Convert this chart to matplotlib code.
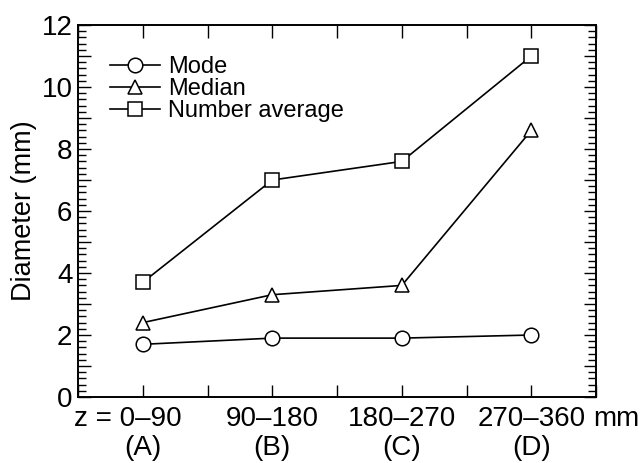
import matplotlib.pyplot as plt
from matplotlib.ticker import MultipleLocator, FuncFormatter

plt.rcParams['font.family'] = ['Liberation Sans', 'DejaVu Sans']

# data
positions = [1, 2, 3, 4]
ranges = ["0\u201390", "90\u2013180", "180\u2013270", "270\u2013360"]
groups = ["(A)", "(B)", "(C)", "(D)"]
mode = [1.7, 1.9, 1.9, 2.0]
median = [2.4, 3.3, 3.6, 8.6]
number_avg = [3.7, 7.0, 7.6, 11.0]

fig = plt.figure(figsize=(6.41, 4.63), dpi=100)
ax = fig.add_axes([0.1217, 0.1425, 0.8083, 0.8035])

style = dict(color="black", lw=1.2, markersize=10.5, markerfacecolor="white",
             markeredgecolor="black", markeredgewidth=1.1)
ax.plot(positions, mode, marker="o", label="Mode", **style)
ax.plot(positions, median, marker="^", label="Median", **style)
ax.plot(positions, number_avg, marker="s", label="Number average", **style)

ax.set_xlim(0.5, 4.5)
ax.set_ylim(0, 12)

# axis styling
for sp in ax.spines.values():
    sp.set_linewidth(1.4)
ax.xaxis.set_major_locator(MultipleLocator(0.5))
ax.xaxis.set_major_formatter(FuncFormatter(lambda v, p: ""))
ax.yaxis.set_major_locator(MultipleLocator(1))
ax.yaxis.set_minor_locator(MultipleLocator(0.2))
ax.yaxis.set_major_formatter(FuncFormatter(lambda v, p: f"{v:.0f}" if round(v) % 2 == 0 else ""))
ax.tick_params(which="both", direction="in", top=True, right=True, width=1.0)
ax.tick_params(which="major", length=9, labelsize=20, pad=4)
ax.tick_params(which="minor", length=5.5)

ax.set_ylabel("Diameter (mm)", fontsize=19.5, labelpad=3)

# x labels below the axis
fs = 20
for i, (x, r, g) in enumerate(zip(positions, ranges, groups)):
    if i == 0:
        r = "z = " + r
        dx = -11
    else:
        dx = 0
    ax.annotate(r, xy=(x, 0), xycoords=("data", "axes fraction"), xytext=(dx, -15.5),
                textcoords="offset points", ha="center", va="center", fontsize=fs)
    ax.annotate(g, xy=(x, 0), xycoords=("data", "axes fraction"), xytext=(0, -37),
                textcoords="offset points", ha="center", va="center", fontsize=fs)
ax.annotate("mm", xy=(4, 0), xycoords=("data", "axes fraction"), xytext=(44.5, -15.5),
            textcoords="offset points", ha="left", va="center", fontsize=fs)

ax.legend(loc="upper left", bbox_to_anchor=(0.03, 0.96), frameon=False, fontsize=17,
          handlelength=2.1, handletextpad=0.35, labelspacing=0.0, borderpad=0.2)

fig.savefig("out.png", dpi=100)
